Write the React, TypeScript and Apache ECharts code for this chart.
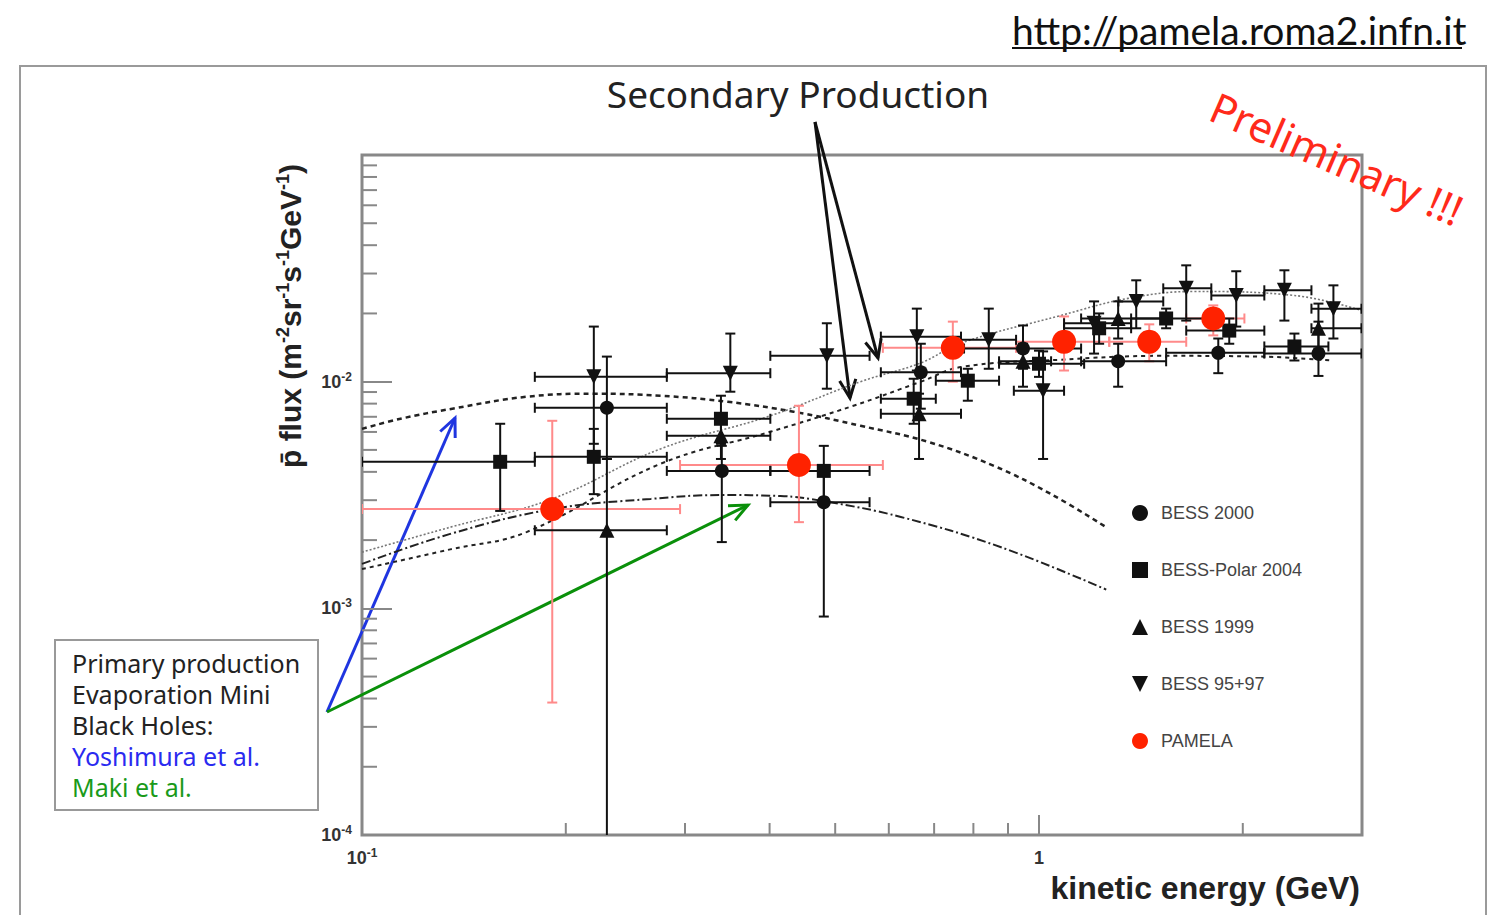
import React, { useEffect, useRef } from 'react';
import * as echarts from 'echarts';

// ---------- axis ranges & ticks ----------
const X_MIN = 0.1;
const X_MAX = 3;
const Y_MIN = 1e-4;
const Y_MAX = 1e-1;
const xMinorTicks = [0.2, 0.3, 0.4, 0.5, 0.6, 0.7, 0.8, 0.9, 2];
const yMinorTicks = [
  2e-4, 3e-4, 4e-4, 5e-4, 6e-4, 7e-4, 8e-4, 9e-4,
  2e-3, 3e-3, 4e-3, 5e-3, 6e-3, 7e-3, 8e-3, 9e-3,
  2e-2, 3e-2, 4e-2, 5e-2, 6e-2, 7e-2, 8e-2, 9e-2,
];

// ---------- data: [E, flux, Elo, Ehi, fluxLo, fluxHi] ----------
const bess2000 = [
  [0.230, 0.00767, 0.180, 0.282, 0.00456, 0.0129],
  [0.340, 0.00404, 0.282, 0.401, 0.00196, 0.00521],
  [0.481, 0.00294, 0.401, 0.562, 0.00092, 0.00412],
  [0.669, 0.0110, 0.584, 0.767, 0.0076, 0.0147],
  [0.947, 0.0140, 0.775, 1.154, 0.0114, 0.0177],
  [1.309, 0.0123, 1.154, 1.541, 0.0095, 0.0147],
  [1.840, 0.0134, 1.541, 2.152, 0.0109, 0.0155],
  [2.587, 0.0133, 2.152, 2.995, 0.0106, 0.0184],
];
const bessPolar2004 = [
  [0.160, 0.00443, 0.100, 0.180, 0.00269, 0.00652],
  [0.220, 0.00466, 0.180, 0.282, 0.00319, 0.00619],
  [0.339, 0.00686, 0.282, 0.401, 0.00532, 0.00867],
  [0.481, 0.00404, 0.401, 0.562, 0.00304, 0.00521],
  [0.653, 0.00841, 0.584, 0.704, 0.00652, 0.0103],
  [0.785, 0.0101, 0.704, 0.873, 0.00824, 0.0114],
  [1.000, 0.0120, 0.873, 1.166, 0.0105, 0.0137],
  [1.227, 0.0172, 1.089, 1.368, 0.0147, 0.0200],
  [1.541, 0.0190, 1.368, 1.797, 0.0172, 0.0210],
  [1.910, 0.0168, 1.650, 2.152, 0.0147, 0.0190],
  [2.384, 0.0143, 2.152, 2.676, 0.0124, 0.0163],
];
const bess1999 = [
  [0.230, 0.00221, 0.180, 0.282, 0.00005, 0.00456],
  [0.339, 0.00577, 0.282, 0.401, 0.00456, 0.00722],
  [0.665, 0.00722, 0.584, 0.767, 0.00456, 0.00885],
  [0.947, 0.0123, 0.873, 1.042, 0.0095, 0.0147],
  [1.309, 0.0190, 1.154, 1.541, 0.0155, 0.0226],
  [2.587, 0.0172, 2.526, 2.995, 0.0140, 0.0221],
];
const bess9597 = [
  [0.220, 0.0105, 0.180, 0.282, 0.00532, 0.0175],
  [0.350, 0.0109, 0.282, 0.401, 0.00903, 0.0163],
  [0.486, 0.0130, 0.401, 0.562, 0.00931, 0.0181],
  [0.660, 0.0158, 0.584, 0.767, 0.0112, 0.0210],
  [0.843, 0.0153, 0.767, 0.925, 0.0114, 0.0210],
  [1.014, 0.00912, 0.918, 1.089, 0.00456, 0.0136],
  [1.206, 0.0181, 1.089, 1.368, 0.0133, 0.0226],
  [1.392, 0.0226, 1.310, 1.526, 0.0172, 0.0280],
  [1.650, 0.0258, 1.526, 1.797, 0.0186, 0.0326],
  [1.956, 0.0240, 1.797, 2.152, 0.0175, 0.0307],
  [2.304, 0.0253, 2.152, 2.526, 0.0186, 0.0310],
  [2.722, 0.0210, 2.526, 2.995, 0.0155, 0.0266],
];
const pamela = [
  [0.191, 0.00274, 0.100, 0.295, 0.000384, 0.00672],
  [0.442, 0.00429, 0.295, 0.588, 0.00240, 0.00783],
  [0.746, 0.0141, 0.588, 0.925, 0.0100, 0.0184],
  [1.089, 0.0150, 0.925, 1.270, 0.0112, 0.0194],
  [1.455, 0.0150, 1.270, 1.650, 0.0123, 0.0179],
  [1.809, 0.0190, 1.650, 2.011, 0.0160, 0.0217],
];

// ---------- model curves: [E, flux] ----------
const yoshimura = [
  [0.100, 0.00619], [0.114, 0.00686], [0.136, 0.0076], [0.175, 0.00858], [0.220, 0.00885],
  [0.276, 0.00867], [0.347, 0.00815], [0.434, 0.00737], [0.545, 0.00639], [0.685, 0.00543],
  [0.858, 0.00425], [1.042, 0.00319], [1.257, 0.00228],
];
const maki = [
  [0.100, 0.00157], [0.135, 0.00213], [0.191, 0.00274], [0.267, 0.00304], [0.339, 0.00316],
  [0.415, 0.00313], [0.481, 0.00297], [0.625, 0.00253], [0.879, 0.00186], [1.257, 0.00121],
];
const secondaryA = [
  [0.100, 0.00177], [0.135, 0.00228], [0.191, 0.00304], [0.276, 0.00505], [0.401, 0.00707],
  [0.545, 0.0100], [0.669, 0.0121], [0.767, 0.0148], [1.078, 0.0196], [1.354, 0.0233],
  [1.696, 0.0250], [2.384, 0.0240], [3.0, 0.0206],
];
const secondaryB = [
  [0.100, 0.00149], [0.135, 0.00182], [0.175, 0.00217], [0.276, 0.00434], [0.401, 0.00601],
  [0.532, 0.00783], [0.669, 0.0100], [0.767, 0.0116], [1.078, 0.0125], [1.516, 0.0130],
  [2.130, 0.0129], [2.704, 0.0124],
];

const legendNames = ['BESS 2000', 'BESS-Polar 2004', 'BESS 1999', 'BESS 95+97', 'PAMELA'];
const boxLines = ['Primary production', 'Evaporation Mini', 'Black Holes:', 'Yoshimura et al.', 'Maki et al.'];

function pow10Label(v: number, hideTop: boolean) {
  const l = Math.log10(v);
  const e = Math.round(l);
  if (Math.abs(l - e) > 1e-6) return '';
  if (hideTop && e === -1) return '';
  if (e === 0) return '{b|1}';
  return '{b|10}{s|' + String(e) + '}';
}

const labelRich = {
  b: { fontSize: 18, fontWeight: 'bold', color: '#333', fontFamily: 'Liberation Sans', lineHeight: 22 },
  s: { fontSize: 12, fontWeight: 'bold', color: '#333', fontFamily: 'Liberation Sans', verticalAlign: 'top' },
};

function errRender(color: string, cap: number) {
  return (params: any, api: any) => {
    const x = api.value(0), y = api.value(1);
    const pL = api.coord([api.value(2), y]);
    const pR = api.coord([api.value(3), y]);
    const pB = api.coord([x, api.value(4)]);
    const pT = api.coord([x, api.value(5)]);
    const style = { stroke: color, lineWidth: 2, fill: 'none' };
    const ln = (x1: number, y1: number, x2: number, y2: number) => ({
      type: 'line', shape: { x1, y1, x2, y2 }, style,
    });
    return {
      type: 'group',
      children: [
        ln(pL[0], pL[1], pR[0], pR[1]),
        ln(pL[0], pL[1] - cap, pL[0], pL[1] + cap),
        ln(pR[0], pR[1] - cap, pR[0], pR[1] + cap),
        ln(pB[0], pB[1], pT[0], pT[1]),
        ln(pB[0] - cap, pB[1], pB[0] + cap, pB[1]),
        ln(pT[0] - cap, pT[1], pT[0] + cap, pT[1]),
      ],
    };
  };
}

function arrow(x1: number, y1: number, x2: number, y2: number, color: string, lw: number, head = 18) {
  const ang = Math.atan2(y2 - y1, x2 - x1);
  const a1 = ang + Math.PI - 0.42;
  const a2 = ang + Math.PI + 0.42;
  return {
    type: 'group',
    children: [
      { type: 'line', shape: { x1, y1, x2, y2 }, style: { stroke: color, lineWidth: lw } },
      {
        type: 'polyline',
        shape: {
          points: [
            [x2 + head * Math.cos(a1), y2 + head * Math.sin(a1)],
            [x2, y2],
            [x2 + head * Math.cos(a2), y2 + head * Math.sin(a2)],
          ],
        },
        style: { stroke: color, lineWidth: lw, fill: 'none' },
      },
    ],
  };
}

function txt(x: number, y: number, text: string, o: any = {}) {
  return {
    type: 'text',
    x, y,
    rotation: o.rotation || 0,
    style: {
      text,
      fill: o.fill || '#222',
      fontSize: o.fontSize || 24,
      fontFamily: o.fontFamily || 'Noto Sans',
      fontWeight: o.fontWeight || 'normal',
      align: o.align || 'left',
      textAlign: o.align || 'left',
      verticalAlign: 'middle',
      textVerticalAlign: 'middle',
      lineHeight: o.lineHeight,
      rich: o.rich,
    },
  };
}

export default function App() {
  const ref = useRef<HTMLDivElement>(null);
  useEffect(() => {
    if (!ref.current) return;
    const chart = echarts.init(ref.current, null, { renderer: 'svg', width: 1488, height: 915 });
    const black = '#111';
    const curve = (name: string, data: number[][], color: string, width: number, type: any) => ({
      type: 'line', name, data, smooth: 0.4, showSymbol: false, silent: true, z: 1,
      lineStyle: { color, width, type }, clip: true,
    });
    const errSeries = (data: number[][], color: string) => ({
      type: 'custom', name: 'err', silent: true, z: 2, clip: true,
      renderItem: errRender(color, 5),
      encode: { x: 0, y: 1 },
      data,
    });
    const scatter = (name: string, data: number[][], symbol: string, size: number, color: string) => ({
      type: 'scatter', name, symbol, symbolSize: size, z: 3,
      itemStyle: { color, opacity: 1 },
      data: data.map((d) => [d[0], d[1]]),
    });
    const titleRich = {
      n: { fontSize: 30, fontWeight: 'bold', fontFamily: 'Liberation Sans', fill: '#222', color: '#222', lineHeight: 32 },
      s: { fontSize: 18, fontWeight: 'bold', fontFamily: 'Liberation Sans', fill: '#222', color: '#222', verticalAlign: 'top' },
    };
    const boxColors = ['#222', '#222', '#222', '#2a2af0', '#1a9a1a'];
    chart.setOption({
      animation: false,
      backgroundColor: '#fff',
      grid: {
        left: 362, top: 155, right: 126, bottom: 80,
        show: true, borderColor: '#888', borderWidth: 3, backgroundColor: 'transparent',
      },
      xAxis: {
        type: 'log', logBase: 10, min: X_MIN, max: X_MAX,
        axisLine: { show: false },
        splitLine: { show: false },
        axisTick: { inside: true, length: 20, lineStyle: { color: '#888', width: 2 } },
        axisLabel: {
          margin: 12,
          formatter: (v: number) => pow10Label(v, false),
          rich: labelRich,
        },
      },
      yAxis: {
        type: 'log', logBase: 10, min: Y_MIN, max: Y_MAX,
        axisLine: { show: false },
        splitLine: { show: false },
        axisTick: { inside: true, length: 30, lineStyle: { color: '#888', width: 2 } },
        axisLabel: {
          margin: 10,
          formatter: (v: number) => pow10Label(v, true),
          rich: labelRich,
        },
      },
      legend: {
        orient: 'vertical', left: 1127, top: 498, itemGap: 37,
        itemWidth: 16, itemHeight: 16, selectedMode: false,
        data: legendNames,
        textStyle: {
          fontSize: 18, color: '#444', fontFamily: 'Liberation Sans', lineHeight: 20,
          padding: [0, 0, 0, 8],
        },
      },
      series: [
        // minor ticks
        {
          type: 'custom', name: 'ytick', silent: true, z: 4, clip: false,
          data: yMinorTicks.map((v) => [X_MIN, v]),
          renderItem: (p: any, api: any) => {
            const c = api.coord([api.value(0), api.value(1)]);
            return { type: 'line', shape: { x1: c[0], y1: c[1], x2: c[0] + 15, y2: c[1] }, style: { stroke: '#888', lineWidth: 2 } };
          },
        },
        {
          type: 'custom', name: 'xtick', silent: true, z: 4, clip: false,
          data: xMinorTicks.map((v) => [v, Y_MIN]),
          renderItem: (p: any, api: any) => {
            const c = api.coord([api.value(0), api.value(1)]);
            return { type: 'line', shape: { x1: c[0], y1: c[1], x2: c[0], y2: c[1] - 12 }, style: { stroke: '#888', lineWidth: 2 } };
          },
        },
        curve('Yoshimura et al.', yoshimura, '#222', 2.5, [5, 4]),
        curve('Maki et al.', maki, '#222', 2, [9, 3, 2, 3]),
        curve('Secondary A', secondaryA, '#777', 1.6, [2, 2]),
        curve('Secondary B', secondaryB, '#222', 2, [4, 4]),
        errSeries(pamela, '#ff8a8a'),
        errSeries(bess2000, black),
        errSeries(bessPolar2004, black),
        errSeries(bess1999, black),
        errSeries(bess9597, black),
        scatter('BESS 2000', bess2000, 'circle', 14, black),
        scatter('BESS-Polar 2004', bessPolar2004, 'rect', 14, black),
        scatter('BESS 1999', bess1999, 'triangle', 15, black),
        scatter('BESS 95+97', bess9597, 'path://M0,0L10,0L5,10Z', 15, black),
        scatter('PAMELA', pamela, 'circle', 24, '#ff2200'),
      ],
      graphic: [
        { type: 'rect', shape: { x: 20, y: 66, width: 1466, height: 870 }, style: { fill: 'none', stroke: '#9a9a9a', lineWidth: 2 }, z: -10 },
        txt(1012, 30, 'http://pamela.roma2.infn.it', { fontSize: 39, fontFamily: 'Lato', fill: '#111' }),
        { type: 'line', shape: { x1: 1012, y1: 48, x2: 1462, y2: 48 }, style: { stroke: '#111', lineWidth: 2 } },
        txt(798, 93, 'Secondary Production', { fontSize: 37, align: 'center', fill: '#222' }),
        arrow(815, 122, 878, 358, '#111', 3, 20),
        arrow(815, 122, 850, 398, '#111', 3, 20),
        txt(1337, 158, 'Preliminary !!!', { fontSize: 42, align: 'center', fill: '#ff2a1a', rotation: -0.41 }),
        { type: 'rect', shape: { x: 55, y: 640, width: 263, height: 170 }, style: { fill: '#fff', stroke: '#999', lineWidth: 2 } },
        ...boxLines.map((s, i) => txt(72, 663 + i * 31, s, { fontSize: 25, lineHeight: 28, fill: boxColors[i] })),
        arrow(327, 712, 455, 418, '#1f35e0', 3, 20),
        arrow(327, 712, 748, 505, '#0a900a', 3, 20),
        txt(290, 316, '{n|p̄ flux (m}{s|-2}{n|sr}{s|-1}{n|s}{s|-1}{n|GeV}{s|-1}{n|)}', {
          fontSize: 30, fontWeight: 'bold', fontFamily: 'Liberation Sans', align: 'center',
          rotation: Math.PI / 2, fill: '#222', rich: titleRich,
        }),
        txt(1360, 888, 'kinetic energy (GeV)', { fontSize: 32, fontWeight: 'bold', fontFamily: 'Liberation Sans', align: 'right', fill: '#222' }),
      ],
    });
    return () => chart.dispose();
  }, []);
  return <div ref={ref} style={{ position: 'absolute', left: 0, top: 0, width: 1488, height: 915, background: '#fff' }} />;
}
